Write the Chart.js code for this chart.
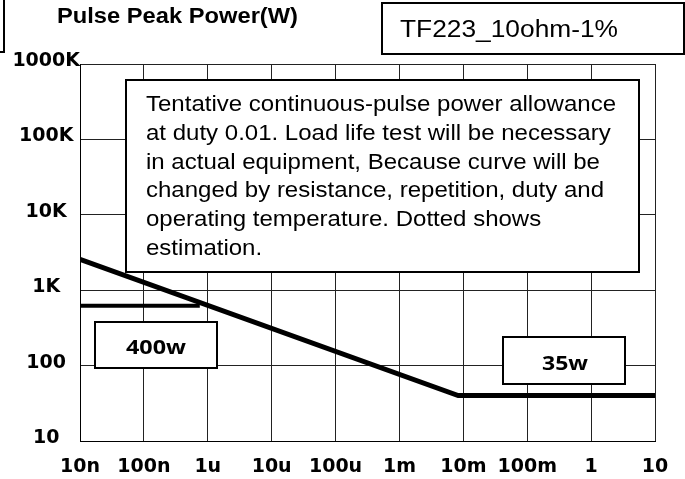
<!DOCTYPE html>
<html>
<head>
<meta charset="utf-8">
<script src="https://cdn.jsdelivr.net/npm/chart.js@4.4.1/dist/chart.umd.min.js"></script>
<style>
  html, body { margin: 0; padding: 0; background: #fff; }
  #wrap { width: 685px; height: 479px; }
</style>
</head>
<body>
<div id="wrap"><canvas id="chart" width="685" height="479"></canvas></div>
<script>
// axis decades and their labels
const xTicks = [1e-8, 1e-7, 1e-6, 1e-5, 1e-4, 1e-3, 1e-2, 1e-1, 1, 10];
const xLabels = ['10n', '100n', '1u', '10u', '100u', '1m', '10m', '100m', '1', '10'];
const yTicks = [10, 100, 1e3, 1e4, 1e5, 1e6];
const yLabels = ['10', '100', '1K', '10K', '100K', '1000K'];

// allowance curve (pulse width s -> peak power W), flat at the 35w limit
const curveX = [1e-8, 8.3e-3, 10];
const curveY = [2570, 40, 40];

// 400w limit line
const limitX = [1e-8, 7.5e-7];
const limitY = [620, 620];

const noteLines = [
  'Tentative continuous-pulse power allowance',
  'at duty 0.01. Load life test will be necessary',
  'in actual equipment, Because curve will be',
  'changed by resistance, repetition, duty and',
  'operating temperature. Dotted shows',
  'estimation.'
];

const toPoints = (xs, ys) => xs.map((x, i) => ({ x: x, y: ys[i] }));

// draw text squeezed/stretched to a given width
function fitText(ctx, text, x, y, width, align) {
  const w = ctx.measureText(text).width;
  ctx.save();
  ctx.translate(x, y);
  ctx.scale(width / w, 1);
  ctx.textAlign = align || 'left';
  ctx.fillText(text, 0, 0);
  ctx.restore();
}

function box(ctx, x1, y1, x2, y2) {
  ctx.fillStyle = '#fff';
  ctx.fillRect(x1, y1, x2 - x1, y2 - y1);
  ctx.strokeStyle = '#000';
  ctx.lineWidth = 2;
  ctx.strokeRect(x1, y1, x2 - x1, y2 - y1);
}

const notes = {
  id: 'notes',
  afterDatasetsDraw(chart) {
    const ctx = chart.ctx;
    ctx.save();
    ctx.textBaseline = 'alphabetic';

    box(ctx, -5, -5, 4, 52);
    box(ctx, 382, 3, 684, 54);
    box(ctx, 126, 80, 639, 272);
    box(ctx, 95, 322, 217, 368);
    box(ctx, 503, 337, 625, 384);

    ctx.fillStyle = '#000';
    ctx.font = 'bold 22px "Liberation Sans", Arial, sans-serif';
    fitText(ctx, 'Pulse Peak Power(W)', 57, 23, 241);

    ctx.font = '23px "Liberation Sans", Arial, sans-serif';
    fitText(ctx, 'TF223_10ohm-1%', 400, 37, 218);

    ctx.font = '22px "Liberation Sans", Arial, sans-serif';
    const sx = 470 / ctx.measureText(noteLines[0]).width;
    noteLines.forEach((t, i) => {
      const w = ctx.measureText(t).width * sx;
      fitText(ctx, t, 146, 111 + i * 28.8, w);
    });

    ctx.font = 'bold 20px "Open Sans", sans-serif';
    fitText(ctx, '400w', 156, 354, 60, 'center');
    fitText(ctx, '35w', 565, 370, 46, 'center');
    ctx.restore();
  }
};

const tickFont = { family: '"DejaVu Sans", sans-serif', size: 19, weight: 'bold' };
// y labels sit a few px above their grid line: an empty second line lifts them
const yTickFont = { family: '"DejaVu Sans", sans-serif', size: 19, weight: 'bold', lineHeight: '6px' };

new Chart(document.getElementById('chart'), {
  type: 'line',
  data: {
    datasets: [
      {
        data: toPoints(curveX, curveY),
        borderColor: '#000',
        borderWidth: 5,
        pointRadius: 0,
        tension: 0
      },
      {
        data: toPoints(limitX, limitY),
        borderColor: '#000',
        borderWidth: 4,
        pointRadius: 0,
        tension: 0
      }
    ]
  },
  options: {
    responsive: false,
    animation: false,
    devicePixelRatio: 1,
    layout: { padding: { top: 64, right: 30, left: 0, bottom: 0 } },
    plugins: {
      legend: { display: false },
      title: { display: false },
      tooltip: { enabled: false }
    },
    scales: {
      x: {
        type: 'logarithmic',
        min: xTicks[0],
        max: xTicks[xTicks.length - 1],
        afterBuildTicks: (s) => { s.ticks = xTicks.map(v => ({ value: v })); },
        afterFit: (s) => { s.height = 38; },
        ticks: {
          callback: (v) => xLabels[xTicks.indexOf(v)],
          autoSkip: false,
          maxRotation: 0,
          padding: 15,
          color: '#000',
          font: tickFont
        },
        grid: { color: '#222', lineWidth: 1, drawTicks: false },
        border: { color: '#000', width: 1 }
      },
      y: {
        type: 'logarithmic',
        min: yTicks[0],
        max: yTicks[yTicks.length - 1],
        afterBuildTicks: (s) => { s.ticks = yTicks.map(v => ({ value: v })); },
        afterFit: (s) => { s.width = 80; },
        ticks: {
          callback: (v) => [yLabels[yTicks.indexOf(v)], ''],
          autoSkip: false,
          crossAlign: 'center',
          padding: 0,
          color: '#000',
          font: yTickFont
        },
        grid: { color: '#222', lineWidth: 1, drawTicks: false },
        border: { color: '#000', width: 1 }
      }
    }
  },
  plugins: [notes]
});
</script>
</body>
</html>
